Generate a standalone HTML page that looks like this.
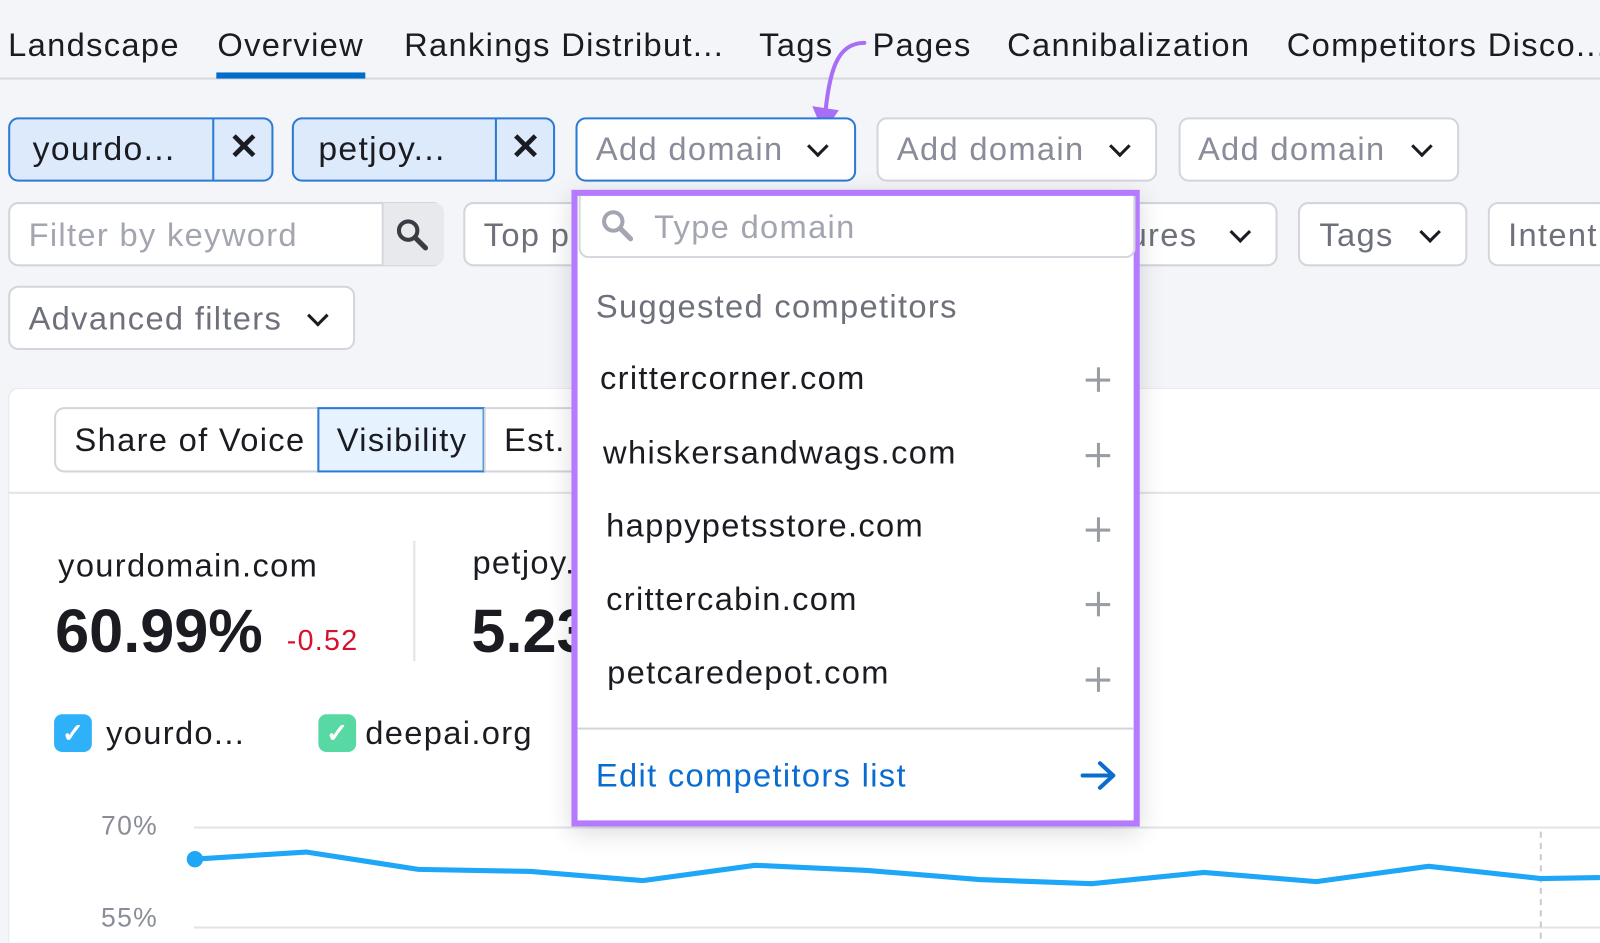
<!DOCTYPE html>
<html><head><meta charset="utf-8"><style>
html,body{margin:0;padding:0;}
body{width:1600px;height:943px;overflow:hidden;background:#f4f5f9;font-family:"Liberation Sans",Arial,sans-serif;letter-spacing:1.3px;}
#w{position:absolute;left:0;top:0;width:1568px;height:924px;transform:scale(1.0204);transform-origin:0 0;background:#f4f5f9;overflow:hidden;}
.a{position:absolute;white-space:nowrap;}
.t{font-size:32px;color:#1b1c22;top:26px;}
.box{position:absolute;box-sizing:border-box;border:2px solid #d3d5dc;border-radius:10px;background:#fff;}
.g{color:#8a8d99;}
.chev{position:absolute;width:12px;height:12px;border-right:3px solid #1b1c22;border-bottom:3px solid #1b1c22;transform:rotate(45deg);}
.plus{position:absolute;width:24px;height:24px;}
.plus:before,.plus:after{content:"";position:absolute;background:#9a9ca6;}
.plus:before{left:11px;top:0;width:3px;height:24px;}
.plus:after{top:11px;left:0;height:3px;width:24px;}
</style></head><body><div id="w">
<div class="a t" style="left:8px">Landscape</div>
<div class="a t" style="left:213px">Overview</div>
<div class="a t" style="left:396px">Rankings Distribut...</div>
<div class="a t" style="left:744px">Tags</div>
<div class="a t" style="left:855px">Pages</div>
<div class="a t" style="left:987px">Cannibalization</div>
<div class="a t" style="left:1261px">Competitors Disco...</div>
<div class="a" style="left:0;top:76px;width:1568px;height:2px;background:#d6d8de"></div>
<div class="a" style="left:212px;top:71px;width:146px;height:6px;background:#006dca"></div>
<svg class="a" style="left:790px;top:30px" width="70" height="110"><path d="M57 12 C30 12 22 40 18 90" stroke="#a86ef5" stroke-width="4" fill="none" stroke-linecap="round"/><path d="M6 74 L17 100 L32 78 Z" fill="#a86ef5"/></svg>
<div class="box" style="left:8px;top:115px;width:260px;height:63px;background:#ddeafb;border-color:#2b7bd6"></div>
<div class="a" style="left:208px;top:116px;width:2px;height:61px;background:#2b7bd6"></div>
<div class="a" style="left:32px;top:127px;font-size:33px;color:#1b1c22">yourdo...</div>
<div class="a" style="left:224px;top:123px;font-size:36px;font-weight:bold;color:#1b1c22">✕</div>
<div class="box" style="left:286px;top:115px;width:258px;height:63px;background:#ddeafb;border-color:#2b7bd6"></div>
<div class="a" style="left:485px;top:116px;width:2px;height:61px;background:#2b7bd6"></div>
<div class="a" style="left:312px;top:127px;font-size:33px;color:#1b1c22">petjoy...</div>
<div class="a" style="left:500px;top:123px;font-size:36px;font-weight:bold;color:#1b1c22">✕</div>
<div class="box" style="left:564px;top:115px;width:275px;height:63px;border-color:#2b7bd6"></div>
<div class="a g" style="left:584px;top:128px;font-size:32px">Add domain</div>
<div class="chev" style="left:794px;top:136px"></div>
<div class="box" style="left:859px;top:115px;width:275px;height:63px"></div>
<div class="a g" style="left:879px;top:128px;font-size:32px">Add domain</div>
<div class="chev" style="left:1090px;top:136px"></div>
<div class="box" style="left:1155px;top:115px;width:275px;height:63px"></div>
<div class="a g" style="left:1174px;top:128px;font-size:32px">Add domain</div>
<div class="chev" style="left:1386px;top:136px"></div>
<div class="box" style="left:8px;top:198px;width:426px;height:63px"></div>
<div class="a" style="left:374px;top:199px;width:59px;height:61px;background:#e8e9ed;border-left:2px solid #d3d5dc;border-radius:0 9px 9px 0"></div>
<svg class="a" style="left:386px;top:212px" width="36" height="36"><circle cx="14" cy="14" r="9" stroke="#3a3c44" stroke-width="4" fill="none"/><path d="M21 21 L31 31" stroke="#3a3c44" stroke-width="5" stroke-linecap="round"/></svg>
<div class="a g" style="left:28px;top:212px;font-size:32px;color:#a3a6b0">Filter by keyword</div>
<div class="box" style="left:454px;top:198px;width:200px;height:63px"></div>
<div class="a g" style="left:474px;top:212px;font-size:32px;color:#6e717c">Top p</div>
<div class="box" style="left:1050px;top:198px;width:202px;height:63px"></div>
<div class="a" style="left:1106px;top:212px;font-size:32px;color:#6e717c">ures</div>
<div class="chev" style="left:1208px;top:220px"></div>
<div class="box" style="left:1272px;top:198px;width:166px;height:63px"></div>
<div class="a" style="left:1293px;top:212px;font-size:32px;color:#6e717c">Tags</div>
<div class="chev" style="left:1394px;top:220px"></div>
<div class="box" style="left:1458px;top:198px;width:110px;height:63px;border-right:none;border-radius:10px 0 0 10px"></div>
<div class="a" style="left:1478px;top:212px;font-size:32px;color:#6e717c">Intent</div>
<div class="box" style="left:8px;top:280px;width:340px;height:63px"></div>
<div class="a" style="left:28px;top:294px;font-size:32px;color:#6e717c">Advanced filters</div>
<div class="chev" style="left:304px;top:302px"></div>
<div class="a" style="left:8px;top:380px;width:1560px;height:544px;box-sizing:border-box;background:#fff;border:1px solid #e3e4e8;border-right:none;border-bottom:none;border-radius:10px 0 0 0"></div>
<div class="a" style="left:8px;top:482px;width:1560px;height:2px;background:#e3e4e8"></div>
<div class="box" style="left:53px;top:399px;width:540px;height:64px"></div>
<div class="a" style="left:311px;top:399px;width:164px;height:64px;box-sizing:border-box;background:#e6f2fe;border:2px solid #2b7bd6"></div>
<div class="a" style="left:474px;top:400px;width:2px;height:62px;background:#d3d5dc"></div>
<div class="a" style="left:73px;top:413px;font-size:32px;color:#1b1c22">Share of Voice</div>
<div class="a" style="left:330px;top:413px;font-size:32px;color:#1b1c22">Visibility</div>
<div class="a" style="left:494px;top:413px;font-size:32px;color:#1b1c22">Est.</div>
<div class="a" style="left:57px;top:536px;font-size:32px;color:#1b1c22">yourdomain.com</div>
<div class="a" style="left:54px;top:584px;font-size:60px;font-weight:bold;color:#1b1c22;letter-spacing:0">60.99%</div>
<div class="a" style="left:281px;top:612px;font-size:28px;color:#d7112b">-0.52</div>
<div class="a" style="left:405px;top:530px;width:2px;height:118px;background:#e3e4e8"></div>
<div class="a" style="left:463px;top:533px;font-size:32px;color:#1b1c22">petjoy.</div>
<div class="a" style="left:462px;top:584px;font-size:60px;font-weight:bold;color:#1b1c22;letter-spacing:0">5.23</div>
<div class="a" style="left:53px;top:700px;width:37px;height:37px;border-radius:8px;background:#2eb1f8;color:#fff;font-size:26px;text-align:center;line-height:37px;font-weight:bold;letter-spacing:0">✓</div>
<div class="a" style="left:104px;top:700px;font-size:32px;color:#1b1c22">yourdo...</div>
<div class="a" style="left:312px;top:700px;width:37px;height:37px;border-radius:8px;background:#58d8a3;color:#fff;font-size:26px;text-align:center;line-height:37px;font-weight:bold;letter-spacing:0">✓</div>
<div class="a" style="left:358px;top:700px;font-size:32px;color:#1b1c22">deepai.org</div>
<div class="a" style="left:99px;top:794px;font-size:26px;color:#8a8d99">70%</div>
<div class="a" style="left:99px;top:884px;font-size:26px;color:#8a8d99">55%</div>
<div class="a" style="left:190px;top:810px;width:1378px;height:2px;background:#e3e4e8"></div>
<div class="a" style="left:190px;top:908px;width:1378px;height:2px;background:#e3e4e8"></div>
<svg class="a" style="left:0;top:0" width="1568" height="924">
<line x1="1510" y1="815" x2="1510" y2="924" stroke="#c9cbd2" stroke-width="2" stroke-dasharray="6 5"/>
<polyline points="190,842 300,835 410,852 520,854 630,863 740,848 850,853 960,862 1070,866 1180,855 1290,864 1400,849 1510,861 1568,860" fill="none" stroke="#1ea7f7" stroke-width="5" stroke-linejoin="round"/>
<circle cx="191" cy="842" r="8" fill="#1ea7f7"/>
</svg>
<div class="a" style="left:560px;top:186px;width:557px;height:624px;box-sizing:border-box;border:6px solid #b57bff;background:#fff;box-shadow:0 6px 24px rgba(0,0,0,0.15)"></div>
<div class="a" style="left:567px;top:192px;width:546px;height:61px;box-sizing:border-box;border:2px solid #d3d5dc;border-top:none;border-radius:0 0 10px 10px"></div>
<svg class="a" style="left:588px;top:204px" width="36" height="36"><circle cx="13" cy="13" r="9" stroke="#a3a6b0" stroke-width="4" fill="none"/><path d="M20 20 L30 30" stroke="#a3a6b0" stroke-width="5" stroke-linecap="round"/></svg>
<div class="a" style="left:641px;top:204px;font-size:32px;color:#a3a6b0">Type domain</div>
<div class="a" style="left:584px;top:282px;font-size:32px;color:#6e717c">Suggested competitors</div>
<div class="a" style="left:588px;top:352px;font-size:32px;color:#1b1c22">crittercorner.com</div>
<div class="a" style="left:591px;top:425px;font-size:32px;color:#1b1c22">whiskersandwags.com</div>
<div class="a" style="left:594px;top:497px;font-size:32px;color:#1b1c22">happypetsstore.com</div>
<div class="a" style="left:594px;top:569px;font-size:32px;color:#1b1c22">crittercabin.com</div>
<div class="a" style="left:595px;top:641px;font-size:32px;color:#1b1c22">petcaredepot.com</div>
<div class="plus" style="left:1064px;top:360px"></div>
<div class="plus" style="left:1064px;top:434px"></div>
<div class="plus" style="left:1064px;top:507px"></div>
<div class="plus" style="left:1064px;top:580px"></div>
<div class="plus" style="left:1064px;top:654px"></div>
<div class="a" style="left:566px;top:713px;width:545px;height:2px;background:#d3d5dc"></div>
<div class="a" style="left:584px;top:742px;font-size:32px;color:#0a6ccf">Edit competitors list</div>
<svg class="a" style="left:1058px;top:744px" width="38" height="32"><path d="M3 16 H32 M20 4 L33 16 L20 28" stroke="#0a6ccf" stroke-width="4" fill="none" stroke-linecap="round" stroke-linejoin="round"/></svg>
</div></body></html>
